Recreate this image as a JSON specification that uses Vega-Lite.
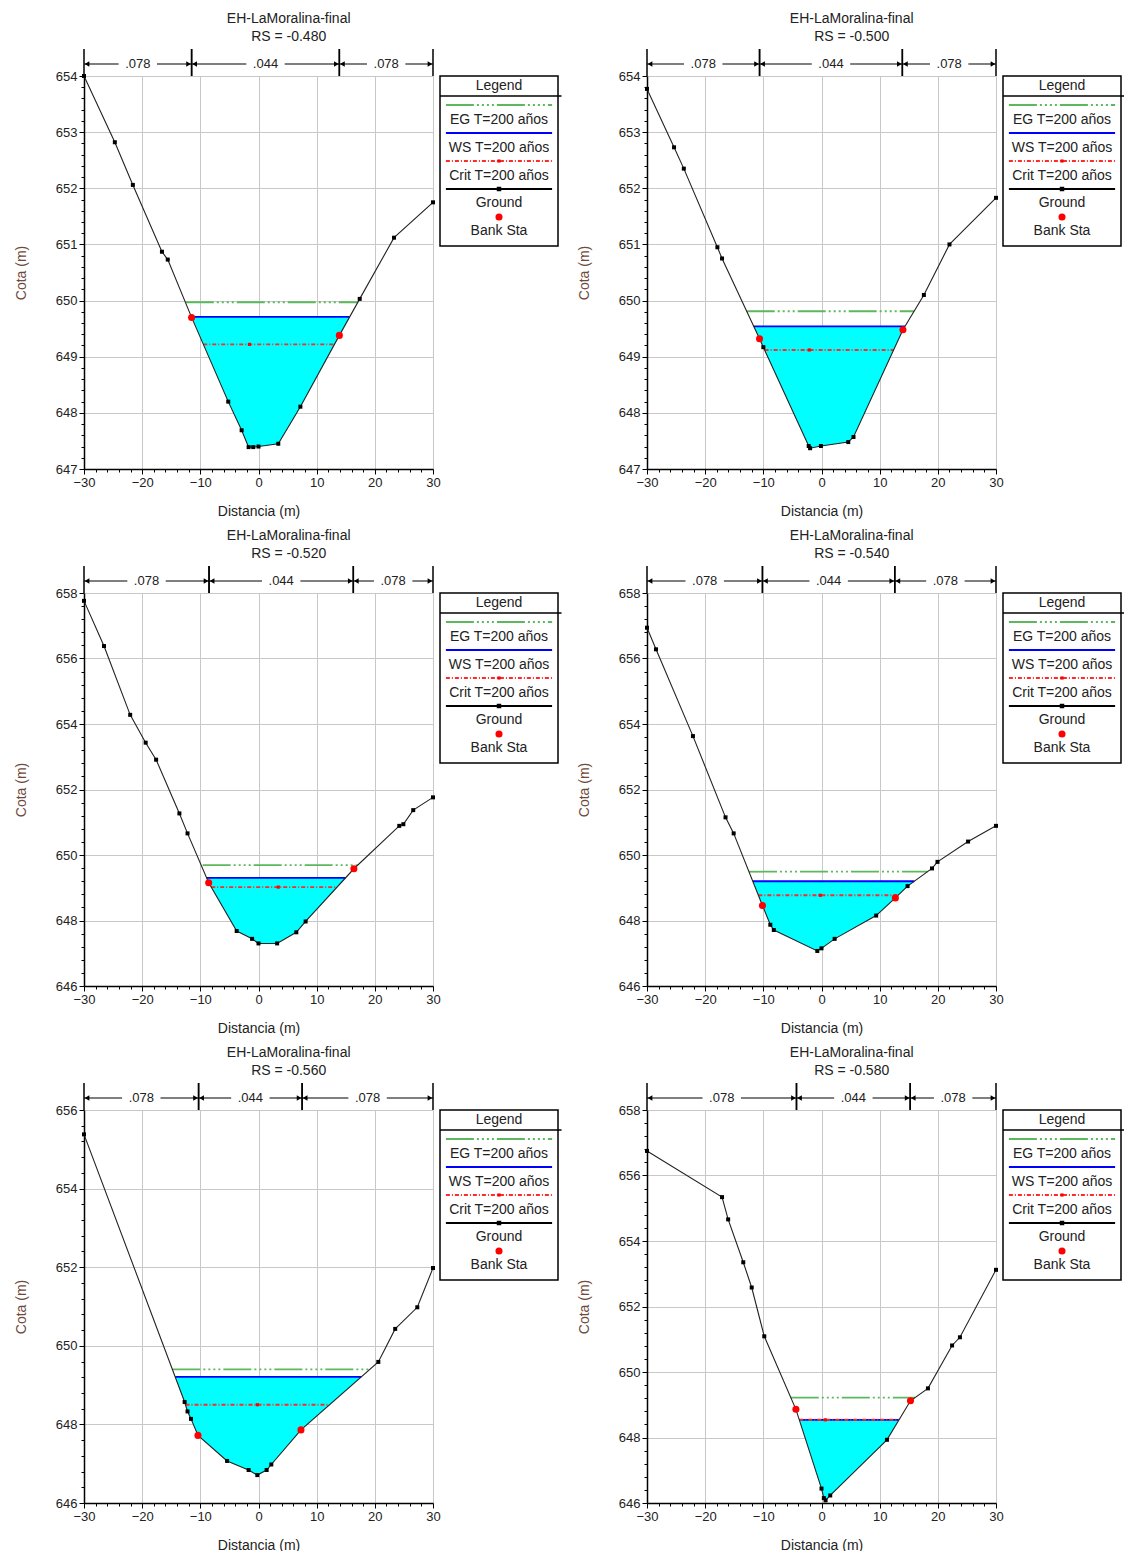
{
"$schema": "https://vega.github.io/schema/vega-lite/v6.json",
"padding": {"left": 14, "top": 12, "right": 0, "bottom": 0},
"config": {
  "font": "Liberation Sans",
  "view": {"stroke": null},
  "text": {"font": "Liberation Sans"},
  "axis": {"labelFont": "Liberation Sans", "labelFontSize": 13, "labelColor": "#222", "titleFont": "Liberation Sans", "titleFontSize": 14, "titleFontWeight": "normal", "titleColor": "#222", "domainColor": "#000", "domainWidth": 1.5, "tickColor": "#000", "tickWidth": 1, "gridColor": "#c8c8c8", "gridWidth": 1, "labelPadding": 2},
  "axisY": {"titleColor": "#6e4a3a", "titlePadding": 27},
  "axisX": {"titlePadding": 15},
  "title": {"font": "Liberation Sans", "fontSize": 14, "fontWeight": "normal", "color": "#222", "lineHeight": 18, "offset": 4, "anchor": "middle"}
},
"datasets": {
  "ground": [
    {"p":1,"x":-30,"z":654.0},{"p":1,"x":-24.7,"z":652.82},{"p":1,"x":-21.6,"z":652.06},{"p":1,"x":-16.6,"z":650.87},{"p":1,"x":-15.6,"z":650.73},{"p":1,"x":-11.5,"z":649.70},{"p":1,"x":-5.2,"z":648.2},{"p":1,"x":-2.9,"z":647.69},{"p":1,"x":-1.7,"z":647.39},{"p":1,"x":-0.9,"z":647.39},{"p":1,"x":0.0,"z":647.40},{"p":1,"x":3.4,"z":647.45},{"p":1,"x":7.2,"z":648.11},{"p":1,"x":13.9,"z":649.38},{"p":1,"x":17.4,"z":650.03},{"p":1,"x":23.3,"z":651.12},{"p":1,"x":30,"z":651.75},
    {"p":2,"x":-30,"z":653.77},{"p":2,"x":-25.35,"z":652.73},{"p":2,"x":-23.67,"z":652.35},{"p":2,"x":-17.9,"z":650.95},{"p":2,"x":-17.1,"z":650.75},{"p":2,"x":-10.65,"z":649.32},{"p":2,"x":-10.0,"z":649.17},{"p":2,"x":-2.2,"z":647.41},{"p":2,"x":-1.96,"z":647.37},{"p":2,"x":-0.1,"z":647.41},{"p":2,"x":4.6,"z":647.48},{"p":2,"x":5.5,"z":647.57},{"p":2,"x":14.0,"z":649.48},{"p":2,"x":17.6,"z":650.10},{"p":2,"x":22.0,"z":651.0},{"p":2,"x":30,"z":651.83},
    {"p":3,"x":-30,"z":657.76},{"p":3,"x":-26.56,"z":656.38},{"p":3,"x":-22.06,"z":654.28},{"p":3,"x":-19.4,"z":653.43},{"p":3,"x":-17.6,"z":652.91},{"p":3,"x":-13.6,"z":651.27},{"p":3,"x":-12.2,"z":650.66},{"p":3,"x":-8.56,"z":649.15},{"p":3,"x":-3.75,"z":647.68},{"p":3,"x":-1.1,"z":647.44},{"p":3,"x":0.0,"z":647.30},{"p":3,"x":3.2,"z":647.30},{"p":3,"x":6.5,"z":647.64},{"p":3,"x":8.1,"z":647.97},{"p":3,"x":16.4,"z":649.58},{"p":3,"x":24.2,"z":650.89},{"p":3,"x":24.9,"z":650.94},{"p":3,"x":26.6,"z":651.37},{"p":3,"x":30,"z":651.76},
    {"p":4,"x":-30,"z":656.94},{"p":4,"x":-28.45,"z":656.28},{"p":4,"x":-22.1,"z":653.63},{"p":4,"x":-16.5,"z":651.15},{"p":4,"x":-15.1,"z":650.66},{"p":4,"x":-10.15,"z":648.46},{"p":4,"x":-8.8,"z":647.87},{"p":4,"x":-8.2,"z":647.71},{"p":4,"x":-0.72,"z":647.07},{"p":4,"x":0.0,"z":647.15},{"p":4,"x":2.26,"z":647.44},{"p":4,"x":9.4,"z":648.15},{"p":4,"x":12.7,"z":648.69},{"p":4,"x":14.8,"z":649.05},{"p":4,"x":19.0,"z":649.59},{"p":4,"x":19.94,"z":649.79},{"p":4,"x":25.2,"z":650.41},{"p":4,"x":30,"z":650.89},
    {"p":5,"x":-30,"z":655.38},{"p":5,"x":-12.7,"z":648.57},{"p":5,"x":-12.2,"z":648.33},{"p":5,"x":-11.6,"z":648.14},{"p":5,"x":-10.4,"z":647.72},{"p":5,"x":-5.4,"z":647.07},{"p":5,"x":-1.7,"z":646.84},{"p":5,"x":-0.2,"z":646.71},{"p":5,"x":1.4,"z":646.84},{"p":5,"x":2.2,"z":646.98},{"p":5,"x":7.3,"z":647.86},{"p":5,"x":20.6,"z":649.59},{"p":5,"x":23.5,"z":650.43},{"p":5,"x":27.3,"z":650.98},{"p":5,"x":30,"z":651.98},
    {"p":6,"x":-30,"z":656.75},{"p":6,"x":-17.1,"z":655.34},{"p":6,"x":-16.05,"z":654.66},{"p":6,"x":-13.45,"z":653.35},{"p":6,"x":-12.0,"z":652.58},{"p":6,"x":-9.84,"z":651.09},{"p":6,"x":-4.4,"z":648.86},{"p":6,"x":0.0,"z":646.44},{"p":6,"x":0.4,"z":646.15},{"p":6,"x":0.7,"z":646.08},{"p":6,"x":1.5,"z":646.23},{"p":6,"x":11.25,"z":647.93},{"p":6,"x":15.3,"z":649.12},{"p":6,"x":18.3,"z":649.50},{"p":6,"x":22.45,"z":650.81},{"p":6,"x":23.8,"z":651.06},{"p":6,"x":30,"z":653.12}
  ],
  "wet": [
    {"p":1,"x":-11.5,"g":649.71,"ws":649.71},{"p":1,"x":-5.2,"g":648.2,"ws":649.71},{"p":1,"x":-2.9,"g":647.69,"ws":649.71},{"p":1,"x":-1.7,"g":647.39,"ws":649.71},{"p":1,"x":-0.9,"g":647.39,"ws":649.71},{"p":1,"x":0,"g":647.40,"ws":649.71},{"p":1,"x":3.4,"g":647.45,"ws":649.71},{"p":1,"x":7.2,"g":648.11,"ws":649.71},{"p":1,"x":13.9,"g":649.38,"ws":649.71},{"p":1,"x":15.65,"g":649.71,"ws":649.71},
    {"p":2,"x":-11.64,"g":649.54,"ws":649.54},{"p":2,"x":-10.65,"g":649.32,"ws":649.54},{"p":2,"x":-10.0,"g":649.17,"ws":649.54},{"p":2,"x":-2.2,"g":647.41,"ws":649.54},{"p":2,"x":-1.96,"g":647.37,"ws":649.54},{"p":2,"x":-0.1,"g":647.41,"ws":649.54},{"p":2,"x":4.6,"g":647.48,"ws":649.54},{"p":2,"x":5.5,"g":647.57,"ws":649.54},{"p":2,"x":14.0,"g":649.48,"ws":649.54},{"p":2,"x":14.35,"g":649.54,"ws":649.54},
    {"p":3,"x":-8.92,"g":649.30,"ws":649.30},{"p":3,"x":-8.56,"g":649.15,"ws":649.30},{"p":3,"x":-3.75,"g":647.68,"ws":649.30},{"p":3,"x":-1.1,"g":647.44,"ws":649.30},{"p":3,"x":0,"g":647.30,"ws":649.30},{"p":3,"x":3.2,"g":647.30,"ws":649.30},{"p":3,"x":6.5,"g":647.64,"ws":649.30},{"p":3,"x":8.1,"g":647.97,"ws":649.30},{"p":3,"x":14.96,"g":649.30,"ws":649.30},
    {"p":4,"x":-11.8,"g":649.20,"ws":649.20},{"p":4,"x":-10.15,"g":648.46,"ws":649.20},{"p":4,"x":-8.8,"g":647.87,"ws":649.20},{"p":4,"x":-8.2,"g":647.71,"ws":649.20},{"p":4,"x":-0.72,"g":647.07,"ws":649.20},{"p":4,"x":0,"g":647.15,"ws":649.20},{"p":4,"x":2.26,"g":647.44,"ws":649.20},{"p":4,"x":9.4,"g":648.15,"ws":649.20},{"p":4,"x":12.7,"g":648.69,"ws":649.20},{"p":4,"x":14.8,"g":649.05,"ws":649.20},{"p":4,"x":15.97,"g":649.20,"ws":649.20},
    {"p":5,"x":-14.33,"g":649.21,"ws":649.21},{"p":5,"x":-12.7,"g":648.57,"ws":649.21},{"p":5,"x":-12.2,"g":648.33,"ws":649.21},{"p":5,"x":-11.6,"g":648.14,"ws":649.21},{"p":5,"x":-10.4,"g":647.72,"ws":649.21},{"p":5,"x":-5.4,"g":647.07,"ws":649.21},{"p":5,"x":-1.7,"g":646.84,"ws":649.21},{"p":5,"x":-0.2,"g":646.71,"ws":649.21},{"p":5,"x":1.4,"g":646.84,"ws":649.21},{"p":5,"x":2.2,"g":646.98,"ws":649.21},{"p":5,"x":7.3,"g":647.86,"ws":649.21},{"p":5,"x":17.68,"g":649.21,"ws":649.21},
    {"p":6,"x":-3.82,"g":648.54,"ws":648.54},{"p":6,"x":0,"g":646.44,"ws":648.54},{"p":6,"x":0.4,"g":646.15,"ws":648.54},{"p":6,"x":0.7,"g":646.08,"ws":648.54},{"p":6,"x":1.5,"g":646.23,"ws":648.54},{"p":6,"x":11.25,"g":647.93,"ws":648.54},{"p":6,"x":13.33,"g":648.54,"ws":648.54}
  ],
  "levels": [
    {"p":1,"kind":"EG","x1":-12.5,"x2":17.0,"z":649.97},{"p":1,"kind":"WS","x1":-11.55,"x2":15.65,"z":649.71},{"p":1,"kind":"Crit","x1":-9.5,"x2":13.06,"z":649.22,"xm":-1.56},
    {"p":2,"kind":"EG","x1":-12.86,"x2":15.92,"z":649.81},{"p":2,"kind":"WS","x1":-11.64,"x2":14.35,"z":649.54},{"p":2,"kind":"Crit","x1":-9.78,"x2":12.4,"z":649.12,"xm":-2.1},
    {"p":3,"kind":"EG","x1":-9.6,"x2":17.05,"z":649.69},{"p":3,"kind":"WS","x1":-8.92,"x2":14.96,"z":649.30},{"p":3,"kind":"Crit","x1":-8.13,"x2":13.51,"z":649.02,"xm":3.4},
    {"p":4,"kind":"EG","x1":-12.47,"x2":18.22,"z":649.49},{"p":4,"kind":"WS","x1":-11.8,"x2":15.97,"z":649.20},{"p":4,"kind":"Crit","x1":-10.85,"x2":13.17,"z":648.77,"xm":-0.2},
    {"p":5,"kind":"EG","x1":-14.81,"x2":19.3,"z":649.40},{"p":5,"kind":"WS","x1":-14.33,"x2":17.68,"z":649.21},{"p":5,"kind":"Crit","x1":-12.55,"x2":12.22,"z":648.50,"xm":-0.2},
    {"p":6,"kind":"EG","x1":-5.28,"x2":16.09,"z":649.22},{"p":6,"kind":"WS","x1":-3.82,"x2":13.33,"z":648.54},{"p":6,"kind":"Crit","x1":-3.82,"x2":13.33,"z":648.54,"xm":0.65}
  ],
  "banks": [
    {"p":1,"x":-11.5,"z":649.70},{"p":1,"x":13.9,"z":649.38},
    {"p":2,"x":-10.65,"z":649.32},{"p":2,"x":14.0,"z":649.48},
    {"p":3,"x":-8.56,"z":649.15},{"p":3,"x":16.4,"z":649.58},
    {"p":4,"x":-10.15,"z":648.46},{"p":4,"x":12.7,"z":648.69},
    {"p":5,"x":-10.4,"z":647.72},{"p":5,"x":7.3,"z":647.86},
    {"p":6,"x":-4.4,"z":648.86},{"p":6,"x":15.3,"z":649.12}
  ],
  "nseg": [
    {"p":1,"x1":-30,"x2":-11.5,"xm":-20.75,"n":".078"},{"p":1,"x1":-11.5,"x2":13.9,"xm":1.2,"n":".044"},{"p":1,"x1":13.9,"x2":30,"xm":21.95,"n":".078"},
    {"p":2,"x1":-30,"x2":-10.65,"xm":-20.33,"n":".078"},{"p":2,"x1":-10.65,"x2":13.9,"xm":1.63,"n":".044"},{"p":2,"x1":13.9,"x2":30,"xm":21.95,"n":".078"},
    {"p":3,"x1":-30,"x2":-8.5,"xm":-19.25,"n":".078"},{"p":3,"x1":-8.5,"x2":16.3,"xm":3.9,"n":".044"},{"p":3,"x1":16.3,"x2":30,"xm":23.15,"n":".078"},
    {"p":4,"x1":-30,"x2":-10.15,"xm":-20.08,"n":".078"},{"p":4,"x1":-10.15,"x2":12.6,"xm":1.23,"n":".044"},{"p":4,"x1":12.6,"x2":30,"xm":21.3,"n":".078"},
    {"p":5,"x1":-30,"x2":-10.3,"xm":-20.15,"n":".078"},{"p":5,"x1":-10.3,"x2":7.5,"xm":-1.4,"n":".044"},{"p":5,"x1":7.5,"x2":30,"xm":18.75,"n":".078"},
    {"p":6,"x1":-30,"x2":-4.3,"xm":-17.15,"n":".078"},{"p":6,"x1":-4.3,"x2":15.25,"xm":5.48,"n":".044"},{"p":6,"x1":15.25,"x2":30,"xm":22.63,"n":".078"}
  ],
  "leg": [
    {"kind":"EG","k":1,"label":"EG T=200 años"},{"kind":"WS","k":2,"label":"WS T=200 años"},{"kind":"Crit","k":3,"label":"Crit T=200 años"},{"kind":"Ground","k":4,"label":"Ground"},{"kind":"Bank","k":5,"label":"Bank Sta"}
  ]
},
"spacing": 11,
"vconcat": [
{"spacing": 13, "hconcat": [
 {"title": {"text": ["EH-LaMoralina-final", "RS = -0.480"]}, "spacing": 7, "bounds": "flush", "hconcat": [
  {"width": 349, "height": 393, "view": {"stroke": null}, "layer": [
   {"data":{"name":"wet"},"transform":[{"filter":"datum.p == 1"}],"mark":{"type":"area","color":"#00ffff","opacity":1},"encoding":{"x":{"field":"x","type":"quantitative"},"y":{"field":"g","type":"quantitative"},"y2":{"field":"ws"}}},
   {"data":{"name":"levels"},"transform":[{"filter":"datum.p == 1"}],"mark":{"type":"rule"},"encoding":{"x":{"field":"x1","type":"quantitative"},"x2":{"field":"x2"},"y":{"field":"z","type":"quantitative"},"color":{"field":"kind","type":"nominal","scale":{"domain":["EG","WS","Crit","Ground"],"range":["#5cb85c","#0000ff","#ff2a2a","#000000"]},"legend":null},"strokeDash":{"field":"kind","type":"nominal","scale":{"domain":["EG","WS","Crit","Ground"],"range":[[28,3,2,3,2,3,2,3,2,3],[1,0],[4,2,1,2],[1,0]]},"legend":null},"strokeWidth":{"field":"kind","type":"ordinal","scale":{"domain":["EG","WS","Crit","Ground"],"range":[1.8,2,1.4,1.2]},"legend":null}}},
   {"data":{"name":"levels"},"transform":[{"filter":"datum.p == 1 && datum.kind == 'Crit'"}],"mark":{"type":"point","shape":"square","size":10,"filled":true,"color":"#ff0000","opacity":1},"encoding":{"x":{"field":"xm","type":"quantitative"},"y":{"field":"z","type":"quantitative"}}},
   {"data":{"name":"ground"},"transform":[{"filter":"datum.p == 1"}],"mark":{"type":"line","color":"#222","strokeWidth":1.1,"point":{"shape":"square","size":16,"filled":true,"color":"#000","opacity":1}},"encoding":{
     "x":{"field":"x","type":"quantitative","scale":{"domain":[-30,30],"nice":false,"zero":false},"axis":{"title":"Distancia (m)","tickCount":200,"values":[-30,-28,-26,-24,-22,-20,-18,-16,-14,-12,-10,-8,-6,-4,-2,0,2,4,6,8,10,12,14,16,18,20,22,24,26,28,30],"labelExpr":"abs(datum.value/10 - round(datum.value/10)) < 0.01 ? format(datum.value, 'd') : ''","tickSize":{"condition":{"test":"abs(datum.value/10 - round(datum.value/10)) < 0.01","value":5},"value":3},"gridOpacity":{"condition":{"test":"abs(datum.value/10 - round(datum.value/10)) < 0.01","value":1},"value":0},"labelOverlap":false,"labelFlush":false}},
     "y":{"field":"z","type":"quantitative","scale":{"domain":[647,654],"nice":false,"zero":false},"axis":{"title":"Cota (m)","tickCount":200,"values":[647,647.2,647.4,647.6,647.8,648,648.2,648.4,648.6,648.8,649,649.2,649.4,649.6,649.8,650,650.2,650.4,650.6,650.8,651,651.2,651.4,651.6,651.8,652,652.2,652.4,652.6,652.8,653,653.2,653.4,653.6,653.8,654],"labelExpr":"abs(datum.value - round(datum.value)) < 0.01 ? format(datum.value, 'd') : ''","tickSize":{"condition":{"test":"abs(datum.value - round(datum.value)) < 0.01","value":5},"value":3},"gridOpacity":{"condition":{"test":"abs(datum.value - round(datum.value)) < 0.01","value":1},"value":0},"labelOverlap":false}}}},
   {"data":{"name":"banks"},"transform":[{"filter":"datum.p == 1"}],"mark":{"type":"point","shape":"circle","size":50,"filled":true,"color":"#ff0000","opacity":1},"encoding":{"x":{"field":"x","type":"quantitative"},"y":{"field":"z","type":"quantitative"}}},
   {"data":{"name":"nseg"},"transform":[{"filter":"datum.p == 1"}],"layer":[
     {"mark":{"type":"rule","color":"#000","strokeWidth":1.5,"yOffset":-27},"encoding":{"x":{"field":"x1","type":"quantitative"},"y":{"datum":654},"y2":{"datum":654}}},
     {"mark":{"type":"rule","color":"#000","strokeWidth":1.5,"yOffset":-27},"encoding":{"x":{"field":"x2","type":"quantitative"},"y":{"datum":654},"y2":{"datum":654}}},
     {"mark":{"type":"rule","color":"#000","strokeWidth":1.2,"yOffset":-12},"encoding":{"x":{"field":"x1","type":"quantitative"},"x2":{"field":"x2"},"y":{"datum":654}}},
     {"mark":{"type":"point","shape":"M-1.6,-0.5H1.6V0.5H-1.6Z","size":576,"filled":true,"color":"#ffffff","opacity":1,"yOffset":-12},"encoding":{"x":{"field":"xm","type":"quantitative"},"y":{"datum":654}}},
     {"mark":{"type":"point","shape":"triangle-left","size":30,"filled":true,"color":"#000","opacity":1,"yOffset":-12,"xOffset":3},"encoding":{"x":{"field":"x1","type":"quantitative"},"y":{"datum":654}}},
     {"mark":{"type":"point","shape":"triangle-right","size":30,"filled":true,"color":"#000","opacity":1,"yOffset":-12,"xOffset":-3},"encoding":{"x":{"field":"x2","type":"quantitative"},"y":{"datum":654}}},
     {"mark":{"type":"text","fontSize":13,"color":"#222","yOffset":-12,"baseline":"middle"},"encoding":{"x":{"field":"xm","type":"quantitative"},"y":{"datum":654},"text":{"field":"n"}}}
   ]}
  ]},
  {"width": 118, "height": 170, "view": {"stroke": "#000", "strokeWidth": 1.5}, "data": {"name": "leg"}, "layer": [
   {"data":{"values":[{}]},"mark":{"type":"text","text":"Legend","fontSize":14,"color":"#222","yOffset":9,"baseline":"middle"},"encoding":{"x":{"datum":0.5,"type":"quantitative","scale":{"domain":[0,1],"nice":false},"axis":null},"y":{"datum":0,"type":"quantitative","scale":{"domain":[-0.036,6.036],"reverse":true,"nice":false,"zero":false},"axis":null}}},
   {"data":{"values":[{}]},"mark":{"type":"rule","color":"#000","strokeWidth":1.5,"yOffset":19},"encoding":{"x":{"datum":0,"type":"quantitative","axis":null},"x2":{"datum":1.03},"y":{"datum":0,"type":"quantitative","axis":null}}},
   {"transform":[{"filter":"datum.kind != 'Bank'"}],"mark":{"type":"rule"},"encoding":{"x":{"datum":0.05,"type":"quantitative","axis":null},"x2":{"datum":0.95},"y":{"field":"k","type":"quantitative","axis":null},"color":{"field":"kind","type":"nominal","scale":{"domain":["EG","WS","Crit","Ground"],"range":["#5cb85c","#0000ff","#ff2a2a","#000000"]},"legend":null},"strokeDash":{"field":"kind","type":"nominal","scale":{"domain":["EG","WS","Crit","Ground"],"range":[[28,3,2,3,2,3,2,3,2,3],[1,0],[4,2,1,2],[1,0]]},"legend":null},"strokeWidth":{"field":"kind","type":"ordinal","scale":{"domain":["EG","WS","Crit","Ground"],"range":[1.8,2,1.4,1.2]},"legend":null}}},
   {"transform":[{"filter":"datum.kind == 'Ground'"}],"mark":{"type":"point","shape":"square","size":20,"filled":true,"color":"#000","opacity":1},"encoding":{"x":{"datum":0.5,"type":"quantitative","axis":null},"y":{"field":"k","type":"quantitative","axis":null}}},
   {"transform":[{"filter":"datum.kind == 'Crit'"}],"mark":{"type":"point","shape":"square","size":10,"filled":true,"color":"#ff0000","opacity":1},"encoding":{"x":{"datum":0.5,"type":"quantitative","axis":null},"y":{"field":"k","type":"quantitative","axis":null}}},
   {"transform":[{"filter":"datum.kind == 'Bank'"}],"mark":{"type":"point","shape":"circle","size":50,"filled":true,"color":"#ff0000","opacity":1},"encoding":{"x":{"datum":0.5,"type":"quantitative","axis":null},"y":{"field":"k","type":"quantitative","axis":null}}},
   {"mark":{"type":"text","fontSize":14,"color":"#222","yOffset":14.5,"baseline":"middle"},"encoding":{"x":{"datum":0.5,"type":"quantitative","axis":null},"y":{"field":"k","type":"quantitative","axis":null},"text":{"field":"label"}}}
  ]}
 ]},
 {"title": {"text": ["EH-LaMoralina-final", "RS = -0.500"]}, "spacing": 7, "bounds": "flush", "hconcat": [
  {"width": 349, "height": 393, "view": {"stroke": null}, "layer": [
   {"data":{"name":"wet"},"transform":[{"filter":"datum.p == 2"}],"mark":{"type":"area","color":"#00ffff","opacity":1},"encoding":{"x":{"field":"x","type":"quantitative"},"y":{"field":"g","type":"quantitative"},"y2":{"field":"ws"}}},
   {"data":{"name":"levels"},"transform":[{"filter":"datum.p == 2"}],"mark":{"type":"rule"},"encoding":{"x":{"field":"x1","type":"quantitative"},"x2":{"field":"x2"},"y":{"field":"z","type":"quantitative"},"color":{"field":"kind","type":"nominal","scale":{"domain":["EG","WS","Crit","Ground"],"range":["#5cb85c","#0000ff","#ff2a2a","#000000"]},"legend":null},"strokeDash":{"field":"kind","type":"nominal","scale":{"domain":["EG","WS","Crit","Ground"],"range":[[28,3,2,3,2,3,2,3,2,3],[1,0],[4,2,1,2],[1,0]]},"legend":null},"strokeWidth":{"field":"kind","type":"ordinal","scale":{"domain":["EG","WS","Crit","Ground"],"range":[1.8,2,1.4,1.2]},"legend":null}}},
   {"data":{"name":"levels"},"transform":[{"filter":"datum.p == 2 && datum.kind == 'Crit'"}],"mark":{"type":"point","shape":"square","size":10,"filled":true,"color":"#ff0000","opacity":1},"encoding":{"x":{"field":"xm","type":"quantitative"},"y":{"field":"z","type":"quantitative"}}},
   {"data":{"name":"ground"},"transform":[{"filter":"datum.p == 2"}],"mark":{"type":"line","color":"#222","strokeWidth":1.1,"point":{"shape":"square","size":16,"filled":true,"color":"#000","opacity":1}},"encoding":{
     "x":{"field":"x","type":"quantitative","scale":{"domain":[-30,30],"nice":false,"zero":false},"axis":{"title":"Distancia (m)","tickCount":200,"values":[-30,-28,-26,-24,-22,-20,-18,-16,-14,-12,-10,-8,-6,-4,-2,0,2,4,6,8,10,12,14,16,18,20,22,24,26,28,30],"labelExpr":"abs(datum.value/10 - round(datum.value/10)) < 0.01 ? format(datum.value, 'd') : ''","tickSize":{"condition":{"test":"abs(datum.value/10 - round(datum.value/10)) < 0.01","value":5},"value":3},"gridOpacity":{"condition":{"test":"abs(datum.value/10 - round(datum.value/10)) < 0.01","value":1},"value":0},"labelOverlap":false,"labelFlush":false}},
     "y":{"field":"z","type":"quantitative","scale":{"domain":[647,654],"nice":false,"zero":false},"axis":{"title":"Cota (m)","tickCount":200,"values":[647,647.2,647.4,647.6,647.8,648,648.2,648.4,648.6,648.8,649,649.2,649.4,649.6,649.8,650,650.2,650.4,650.6,650.8,651,651.2,651.4,651.6,651.8,652,652.2,652.4,652.6,652.8,653,653.2,653.4,653.6,653.8,654],"labelExpr":"abs(datum.value - round(datum.value)) < 0.01 ? format(datum.value, 'd') : ''","tickSize":{"condition":{"test":"abs(datum.value - round(datum.value)) < 0.01","value":5},"value":3},"gridOpacity":{"condition":{"test":"abs(datum.value - round(datum.value)) < 0.01","value":1},"value":0},"labelOverlap":false}}}},
   {"data":{"name":"banks"},"transform":[{"filter":"datum.p == 2"}],"mark":{"type":"point","shape":"circle","size":50,"filled":true,"color":"#ff0000","opacity":1},"encoding":{"x":{"field":"x","type":"quantitative"},"y":{"field":"z","type":"quantitative"}}},
   {"data":{"name":"nseg"},"transform":[{"filter":"datum.p == 2"}],"layer":[
     {"mark":{"type":"rule","color":"#000","strokeWidth":1.5,"yOffset":-27},"encoding":{"x":{"field":"x1","type":"quantitative"},"y":{"datum":654},"y2":{"datum":654}}},
     {"mark":{"type":"rule","color":"#000","strokeWidth":1.5,"yOffset":-27},"encoding":{"x":{"field":"x2","type":"quantitative"},"y":{"datum":654},"y2":{"datum":654}}},
     {"mark":{"type":"rule","color":"#000","strokeWidth":1.2,"yOffset":-12},"encoding":{"x":{"field":"x1","type":"quantitative"},"x2":{"field":"x2"},"y":{"datum":654}}},
     {"mark":{"type":"point","shape":"M-1.6,-0.5H1.6V0.5H-1.6Z","size":576,"filled":true,"color":"#ffffff","opacity":1,"yOffset":-12},"encoding":{"x":{"field":"xm","type":"quantitative"},"y":{"datum":654}}},
     {"mark":{"type":"point","shape":"triangle-left","size":30,"filled":true,"color":"#000","opacity":1,"yOffset":-12,"xOffset":3},"encoding":{"x":{"field":"x1","type":"quantitative"},"y":{"datum":654}}},
     {"mark":{"type":"point","shape":"triangle-right","size":30,"filled":true,"color":"#000","opacity":1,"yOffset":-12,"xOffset":-3},"encoding":{"x":{"field":"x2","type":"quantitative"},"y":{"datum":654}}},
     {"mark":{"type":"text","fontSize":13,"color":"#222","yOffset":-12,"baseline":"middle"},"encoding":{"x":{"field":"xm","type":"quantitative"},"y":{"datum":654},"text":{"field":"n"}}}
   ]}
  ]},
  {"width": 118, "height": 170, "view": {"stroke": "#000", "strokeWidth": 1.5}, "data": {"name": "leg"}, "layer": [
   {"data":{"values":[{}]},"mark":{"type":"text","text":"Legend","fontSize":14,"color":"#222","yOffset":9,"baseline":"middle"},"encoding":{"x":{"datum":0.5,"type":"quantitative","scale":{"domain":[0,1],"nice":false},"axis":null},"y":{"datum":0,"type":"quantitative","scale":{"domain":[-0.036,6.036],"reverse":true,"nice":false,"zero":false},"axis":null}}},
   {"data":{"values":[{}]},"mark":{"type":"rule","color":"#000","strokeWidth":1.5,"yOffset":19},"encoding":{"x":{"datum":0,"type":"quantitative","axis":null},"x2":{"datum":1.03},"y":{"datum":0,"type":"quantitative","axis":null}}},
   {"transform":[{"filter":"datum.kind != 'Bank'"}],"mark":{"type":"rule"},"encoding":{"x":{"datum":0.05,"type":"quantitative","axis":null},"x2":{"datum":0.95},"y":{"field":"k","type":"quantitative","axis":null},"color":{"field":"kind","type":"nominal","scale":{"domain":["EG","WS","Crit","Ground"],"range":["#5cb85c","#0000ff","#ff2a2a","#000000"]},"legend":null},"strokeDash":{"field":"kind","type":"nominal","scale":{"domain":["EG","WS","Crit","Ground"],"range":[[28,3,2,3,2,3,2,3,2,3],[1,0],[4,2,1,2],[1,0]]},"legend":null},"strokeWidth":{"field":"kind","type":"ordinal","scale":{"domain":["EG","WS","Crit","Ground"],"range":[1.8,2,1.4,1.2]},"legend":null}}},
   {"transform":[{"filter":"datum.kind == 'Ground'"}],"mark":{"type":"point","shape":"square","size":20,"filled":true,"color":"#000","opacity":1},"encoding":{"x":{"datum":0.5,"type":"quantitative","axis":null},"y":{"field":"k","type":"quantitative","axis":null}}},
   {"transform":[{"filter":"datum.kind == 'Crit'"}],"mark":{"type":"point","shape":"square","size":10,"filled":true,"color":"#ff0000","opacity":1},"encoding":{"x":{"datum":0.5,"type":"quantitative","axis":null},"y":{"field":"k","type":"quantitative","axis":null}}},
   {"transform":[{"filter":"datum.kind == 'Bank'"}],"mark":{"type":"point","shape":"circle","size":50,"filled":true,"color":"#ff0000","opacity":1},"encoding":{"x":{"datum":0.5,"type":"quantitative","axis":null},"y":{"field":"k","type":"quantitative","axis":null}}},
   {"mark":{"type":"text","fontSize":14,"color":"#222","yOffset":14.5,"baseline":"middle"},"encoding":{"x":{"datum":0.5,"type":"quantitative","axis":null},"y":{"field":"k","type":"quantitative","axis":null},"text":{"field":"label"}}}
  ]}
 ]}
]},
{"spacing": 13, "hconcat": [
 {"title": {"text": ["EH-LaMoralina-final", "RS = -0.520"]}, "spacing": 7, "bounds": "flush", "hconcat": [
  {"width": 349, "height": 393, "view": {"stroke": null}, "layer": [
   {"data":{"name":"wet"},"transform":[{"filter":"datum.p == 3"}],"mark":{"type":"area","color":"#00ffff","opacity":1},"encoding":{"x":{"field":"x","type":"quantitative"},"y":{"field":"g","type":"quantitative"},"y2":{"field":"ws"}}},
   {"data":{"name":"levels"},"transform":[{"filter":"datum.p == 3"}],"mark":{"type":"rule"},"encoding":{"x":{"field":"x1","type":"quantitative"},"x2":{"field":"x2"},"y":{"field":"z","type":"quantitative"},"color":{"field":"kind","type":"nominal","scale":{"domain":["EG","WS","Crit","Ground"],"range":["#5cb85c","#0000ff","#ff2a2a","#000000"]},"legend":null},"strokeDash":{"field":"kind","type":"nominal","scale":{"domain":["EG","WS","Crit","Ground"],"range":[[28,3,2,3,2,3,2,3,2,3],[1,0],[4,2,1,2],[1,0]]},"legend":null},"strokeWidth":{"field":"kind","type":"ordinal","scale":{"domain":["EG","WS","Crit","Ground"],"range":[1.8,2,1.4,1.2]},"legend":null}}},
   {"data":{"name":"levels"},"transform":[{"filter":"datum.p == 3 && datum.kind == 'Crit'"}],"mark":{"type":"point","shape":"square","size":10,"filled":true,"color":"#ff0000","opacity":1},"encoding":{"x":{"field":"xm","type":"quantitative"},"y":{"field":"z","type":"quantitative"}}},
   {"data":{"name":"ground"},"transform":[{"filter":"datum.p == 3"}],"mark":{"type":"line","color":"#222","strokeWidth":1.1,"point":{"shape":"square","size":16,"filled":true,"color":"#000","opacity":1}},"encoding":{
     "x":{"field":"x","type":"quantitative","scale":{"domain":[-30,30],"nice":false,"zero":false},"axis":{"title":"Distancia (m)","tickCount":200,"values":[-30,-28,-26,-24,-22,-20,-18,-16,-14,-12,-10,-8,-6,-4,-2,0,2,4,6,8,10,12,14,16,18,20,22,24,26,28,30],"labelExpr":"abs(datum.value/10 - round(datum.value/10)) < 0.01 ? format(datum.value, 'd') : ''","tickSize":{"condition":{"test":"abs(datum.value/10 - round(datum.value/10)) < 0.01","value":5},"value":3},"gridOpacity":{"condition":{"test":"abs(datum.value/10 - round(datum.value/10)) < 0.01","value":1},"value":0},"labelOverlap":false,"labelFlush":false}},
     "y":{"field":"z","type":"quantitative","scale":{"domain":[646,658],"nice":false,"zero":false},"axis":{"title":"Cota (m)","tickCount":200,"values":[646,646.4,646.8,647.2,647.6,648,648.4,648.8,649.2,649.6,650,650.4,650.8,651.2,651.6,652,652.4,652.8,653.2,653.6,654,654.4,654.8,655.2,655.6,656,656.4,656.8,657.2,657.6,658],"labelExpr":"abs(datum.value/2 - round(datum.value/2)) < 0.01 ? format(datum.value, 'd') : ''","tickSize":{"condition":{"test":"abs(datum.value/2 - round(datum.value/2)) < 0.01","value":5},"value":3},"gridOpacity":{"condition":{"test":"abs(datum.value/2 - round(datum.value/2)) < 0.01","value":1},"value":0},"labelOverlap":false}}}},
   {"data":{"name":"banks"},"transform":[{"filter":"datum.p == 3"}],"mark":{"type":"point","shape":"circle","size":50,"filled":true,"color":"#ff0000","opacity":1},"encoding":{"x":{"field":"x","type":"quantitative"},"y":{"field":"z","type":"quantitative"}}},
   {"data":{"name":"nseg"},"transform":[{"filter":"datum.p == 3"}],"layer":[
     {"mark":{"type":"rule","color":"#000","strokeWidth":1.5,"yOffset":-27},"encoding":{"x":{"field":"x1","type":"quantitative"},"y":{"datum":658},"y2":{"datum":658}}},
     {"mark":{"type":"rule","color":"#000","strokeWidth":1.5,"yOffset":-27},"encoding":{"x":{"field":"x2","type":"quantitative"},"y":{"datum":658},"y2":{"datum":658}}},
     {"mark":{"type":"rule","color":"#000","strokeWidth":1.2,"yOffset":-12},"encoding":{"x":{"field":"x1","type":"quantitative"},"x2":{"field":"x2"},"y":{"datum":658}}},
     {"mark":{"type":"point","shape":"M-1.6,-0.5H1.6V0.5H-1.6Z","size":576,"filled":true,"color":"#ffffff","opacity":1,"yOffset":-12},"encoding":{"x":{"field":"xm","type":"quantitative"},"y":{"datum":658}}},
     {"mark":{"type":"point","shape":"triangle-left","size":30,"filled":true,"color":"#000","opacity":1,"yOffset":-12,"xOffset":3},"encoding":{"x":{"field":"x1","type":"quantitative"},"y":{"datum":658}}},
     {"mark":{"type":"point","shape":"triangle-right","size":30,"filled":true,"color":"#000","opacity":1,"yOffset":-12,"xOffset":-3},"encoding":{"x":{"field":"x2","type":"quantitative"},"y":{"datum":658}}},
     {"mark":{"type":"text","fontSize":13,"color":"#222","yOffset":-12,"baseline":"middle"},"encoding":{"x":{"field":"xm","type":"quantitative"},"y":{"datum":658},"text":{"field":"n"}}}
   ]}
  ]},
  {"width": 118, "height": 170, "view": {"stroke": "#000", "strokeWidth": 1.5}, "data": {"name": "leg"}, "layer": [
   {"data":{"values":[{}]},"mark":{"type":"text","text":"Legend","fontSize":14,"color":"#222","yOffset":9,"baseline":"middle"},"encoding":{"x":{"datum":0.5,"type":"quantitative","scale":{"domain":[0,1],"nice":false},"axis":null},"y":{"datum":0,"type":"quantitative","scale":{"domain":[-0.036,6.036],"reverse":true,"nice":false,"zero":false},"axis":null}}},
   {"data":{"values":[{}]},"mark":{"type":"rule","color":"#000","strokeWidth":1.5,"yOffset":19},"encoding":{"x":{"datum":0,"type":"quantitative","axis":null},"x2":{"datum":1.03},"y":{"datum":0,"type":"quantitative","axis":null}}},
   {"transform":[{"filter":"datum.kind != 'Bank'"}],"mark":{"type":"rule"},"encoding":{"x":{"datum":0.05,"type":"quantitative","axis":null},"x2":{"datum":0.95},"y":{"field":"k","type":"quantitative","axis":null},"color":{"field":"kind","type":"nominal","scale":{"domain":["EG","WS","Crit","Ground"],"range":["#5cb85c","#0000ff","#ff2a2a","#000000"]},"legend":null},"strokeDash":{"field":"kind","type":"nominal","scale":{"domain":["EG","WS","Crit","Ground"],"range":[[28,3,2,3,2,3,2,3,2,3],[1,0],[4,2,1,2],[1,0]]},"legend":null},"strokeWidth":{"field":"kind","type":"ordinal","scale":{"domain":["EG","WS","Crit","Ground"],"range":[1.8,2,1.4,1.2]},"legend":null}}},
   {"transform":[{"filter":"datum.kind == 'Ground'"}],"mark":{"type":"point","shape":"square","size":20,"filled":true,"color":"#000","opacity":1},"encoding":{"x":{"datum":0.5,"type":"quantitative","axis":null},"y":{"field":"k","type":"quantitative","axis":null}}},
   {"transform":[{"filter":"datum.kind == 'Crit'"}],"mark":{"type":"point","shape":"square","size":10,"filled":true,"color":"#ff0000","opacity":1},"encoding":{"x":{"datum":0.5,"type":"quantitative","axis":null},"y":{"field":"k","type":"quantitative","axis":null}}},
   {"transform":[{"filter":"datum.kind == 'Bank'"}],"mark":{"type":"point","shape":"circle","size":50,"filled":true,"color":"#ff0000","opacity":1},"encoding":{"x":{"datum":0.5,"type":"quantitative","axis":null},"y":{"field":"k","type":"quantitative","axis":null}}},
   {"mark":{"type":"text","fontSize":14,"color":"#222","yOffset":14.5,"baseline":"middle"},"encoding":{"x":{"datum":0.5,"type":"quantitative","axis":null},"y":{"field":"k","type":"quantitative","axis":null},"text":{"field":"label"}}}
  ]}
 ]},
 {"title": {"text": ["EH-LaMoralina-final", "RS = -0.540"]}, "spacing": 7, "bounds": "flush", "hconcat": [
  {"width": 349, "height": 393, "view": {"stroke": null}, "layer": [
   {"data":{"name":"wet"},"transform":[{"filter":"datum.p == 4"}],"mark":{"type":"area","color":"#00ffff","opacity":1},"encoding":{"x":{"field":"x","type":"quantitative"},"y":{"field":"g","type":"quantitative"},"y2":{"field":"ws"}}},
   {"data":{"name":"levels"},"transform":[{"filter":"datum.p == 4"}],"mark":{"type":"rule"},"encoding":{"x":{"field":"x1","type":"quantitative"},"x2":{"field":"x2"},"y":{"field":"z","type":"quantitative"},"color":{"field":"kind","type":"nominal","scale":{"domain":["EG","WS","Crit","Ground"],"range":["#5cb85c","#0000ff","#ff2a2a","#000000"]},"legend":null},"strokeDash":{"field":"kind","type":"nominal","scale":{"domain":["EG","WS","Crit","Ground"],"range":[[28,3,2,3,2,3,2,3,2,3],[1,0],[4,2,1,2],[1,0]]},"legend":null},"strokeWidth":{"field":"kind","type":"ordinal","scale":{"domain":["EG","WS","Crit","Ground"],"range":[1.8,2,1.4,1.2]},"legend":null}}},
   {"data":{"name":"levels"},"transform":[{"filter":"datum.p == 4 && datum.kind == 'Crit'"}],"mark":{"type":"point","shape":"square","size":10,"filled":true,"color":"#ff0000","opacity":1},"encoding":{"x":{"field":"xm","type":"quantitative"},"y":{"field":"z","type":"quantitative"}}},
   {"data":{"name":"ground"},"transform":[{"filter":"datum.p == 4"}],"mark":{"type":"line","color":"#222","strokeWidth":1.1,"point":{"shape":"square","size":16,"filled":true,"color":"#000","opacity":1}},"encoding":{
     "x":{"field":"x","type":"quantitative","scale":{"domain":[-30,30],"nice":false,"zero":false},"axis":{"title":"Distancia (m)","tickCount":200,"values":[-30,-28,-26,-24,-22,-20,-18,-16,-14,-12,-10,-8,-6,-4,-2,0,2,4,6,8,10,12,14,16,18,20,22,24,26,28,30],"labelExpr":"abs(datum.value/10 - round(datum.value/10)) < 0.01 ? format(datum.value, 'd') : ''","tickSize":{"condition":{"test":"abs(datum.value/10 - round(datum.value/10)) < 0.01","value":5},"value":3},"gridOpacity":{"condition":{"test":"abs(datum.value/10 - round(datum.value/10)) < 0.01","value":1},"value":0},"labelOverlap":false,"labelFlush":false}},
     "y":{"field":"z","type":"quantitative","scale":{"domain":[646,658],"nice":false,"zero":false},"axis":{"title":"Cota (m)","tickCount":200,"values":[646,646.4,646.8,647.2,647.6,648,648.4,648.8,649.2,649.6,650,650.4,650.8,651.2,651.6,652,652.4,652.8,653.2,653.6,654,654.4,654.8,655.2,655.6,656,656.4,656.8,657.2,657.6,658],"labelExpr":"abs(datum.value/2 - round(datum.value/2)) < 0.01 ? format(datum.value, 'd') : ''","tickSize":{"condition":{"test":"abs(datum.value/2 - round(datum.value/2)) < 0.01","value":5},"value":3},"gridOpacity":{"condition":{"test":"abs(datum.value/2 - round(datum.value/2)) < 0.01","value":1},"value":0},"labelOverlap":false}}}},
   {"data":{"name":"banks"},"transform":[{"filter":"datum.p == 4"}],"mark":{"type":"point","shape":"circle","size":50,"filled":true,"color":"#ff0000","opacity":1},"encoding":{"x":{"field":"x","type":"quantitative"},"y":{"field":"z","type":"quantitative"}}},
   {"data":{"name":"nseg"},"transform":[{"filter":"datum.p == 4"}],"layer":[
     {"mark":{"type":"rule","color":"#000","strokeWidth":1.5,"yOffset":-27},"encoding":{"x":{"field":"x1","type":"quantitative"},"y":{"datum":658},"y2":{"datum":658}}},
     {"mark":{"type":"rule","color":"#000","strokeWidth":1.5,"yOffset":-27},"encoding":{"x":{"field":"x2","type":"quantitative"},"y":{"datum":658},"y2":{"datum":658}}},
     {"mark":{"type":"rule","color":"#000","strokeWidth":1.2,"yOffset":-12},"encoding":{"x":{"field":"x1","type":"quantitative"},"x2":{"field":"x2"},"y":{"datum":658}}},
     {"mark":{"type":"point","shape":"M-1.6,-0.5H1.6V0.5H-1.6Z","size":576,"filled":true,"color":"#ffffff","opacity":1,"yOffset":-12},"encoding":{"x":{"field":"xm","type":"quantitative"},"y":{"datum":658}}},
     {"mark":{"type":"point","shape":"triangle-left","size":30,"filled":true,"color":"#000","opacity":1,"yOffset":-12,"xOffset":3},"encoding":{"x":{"field":"x1","type":"quantitative"},"y":{"datum":658}}},
     {"mark":{"type":"point","shape":"triangle-right","size":30,"filled":true,"color":"#000","opacity":1,"yOffset":-12,"xOffset":-3},"encoding":{"x":{"field":"x2","type":"quantitative"},"y":{"datum":658}}},
     {"mark":{"type":"text","fontSize":13,"color":"#222","yOffset":-12,"baseline":"middle"},"encoding":{"x":{"field":"xm","type":"quantitative"},"y":{"datum":658},"text":{"field":"n"}}}
   ]}
  ]},
  {"width": 118, "height": 170, "view": {"stroke": "#000", "strokeWidth": 1.5}, "data": {"name": "leg"}, "layer": [
   {"data":{"values":[{}]},"mark":{"type":"text","text":"Legend","fontSize":14,"color":"#222","yOffset":9,"baseline":"middle"},"encoding":{"x":{"datum":0.5,"type":"quantitative","scale":{"domain":[0,1],"nice":false},"axis":null},"y":{"datum":0,"type":"quantitative","scale":{"domain":[-0.036,6.036],"reverse":true,"nice":false,"zero":false},"axis":null}}},
   {"data":{"values":[{}]},"mark":{"type":"rule","color":"#000","strokeWidth":1.5,"yOffset":19},"encoding":{"x":{"datum":0,"type":"quantitative","axis":null},"x2":{"datum":1.03},"y":{"datum":0,"type":"quantitative","axis":null}}},
   {"transform":[{"filter":"datum.kind != 'Bank'"}],"mark":{"type":"rule"},"encoding":{"x":{"datum":0.05,"type":"quantitative","axis":null},"x2":{"datum":0.95},"y":{"field":"k","type":"quantitative","axis":null},"color":{"field":"kind","type":"nominal","scale":{"domain":["EG","WS","Crit","Ground"],"range":["#5cb85c","#0000ff","#ff2a2a","#000000"]},"legend":null},"strokeDash":{"field":"kind","type":"nominal","scale":{"domain":["EG","WS","Crit","Ground"],"range":[[28,3,2,3,2,3,2,3,2,3],[1,0],[4,2,1,2],[1,0]]},"legend":null},"strokeWidth":{"field":"kind","type":"ordinal","scale":{"domain":["EG","WS","Crit","Ground"],"range":[1.8,2,1.4,1.2]},"legend":null}}},
   {"transform":[{"filter":"datum.kind == 'Ground'"}],"mark":{"type":"point","shape":"square","size":20,"filled":true,"color":"#000","opacity":1},"encoding":{"x":{"datum":0.5,"type":"quantitative","axis":null},"y":{"field":"k","type":"quantitative","axis":null}}},
   {"transform":[{"filter":"datum.kind == 'Crit'"}],"mark":{"type":"point","shape":"square","size":10,"filled":true,"color":"#ff0000","opacity":1},"encoding":{"x":{"datum":0.5,"type":"quantitative","axis":null},"y":{"field":"k","type":"quantitative","axis":null}}},
   {"transform":[{"filter":"datum.kind == 'Bank'"}],"mark":{"type":"point","shape":"circle","size":50,"filled":true,"color":"#ff0000","opacity":1},"encoding":{"x":{"datum":0.5,"type":"quantitative","axis":null},"y":{"field":"k","type":"quantitative","axis":null}}},
   {"mark":{"type":"text","fontSize":14,"color":"#222","yOffset":14.5,"baseline":"middle"},"encoding":{"x":{"datum":0.5,"type":"quantitative","axis":null},"y":{"field":"k","type":"quantitative","axis":null},"text":{"field":"label"}}}
  ]}
 ]}
]},
{"spacing": 13, "hconcat": [
 {"title": {"text": ["EH-LaMoralina-final", "RS = -0.560"]}, "spacing": 7, "bounds": "flush", "hconcat": [
  {"width": 349, "height": 393, "view": {"stroke": null}, "layer": [
   {"data":{"name":"wet"},"transform":[{"filter":"datum.p == 5"}],"mark":{"type":"area","color":"#00ffff","opacity":1},"encoding":{"x":{"field":"x","type":"quantitative"},"y":{"field":"g","type":"quantitative"},"y2":{"field":"ws"}}},
   {"data":{"name":"levels"},"transform":[{"filter":"datum.p == 5"}],"mark":{"type":"rule"},"encoding":{"x":{"field":"x1","type":"quantitative"},"x2":{"field":"x2"},"y":{"field":"z","type":"quantitative"},"color":{"field":"kind","type":"nominal","scale":{"domain":["EG","WS","Crit","Ground"],"range":["#5cb85c","#0000ff","#ff2a2a","#000000"]},"legend":null},"strokeDash":{"field":"kind","type":"nominal","scale":{"domain":["EG","WS","Crit","Ground"],"range":[[28,3,2,3,2,3,2,3,2,3],[1,0],[4,2,1,2],[1,0]]},"legend":null},"strokeWidth":{"field":"kind","type":"ordinal","scale":{"domain":["EG","WS","Crit","Ground"],"range":[1.8,2,1.4,1.2]},"legend":null}}},
   {"data":{"name":"levels"},"transform":[{"filter":"datum.p == 5 && datum.kind == 'Crit'"}],"mark":{"type":"point","shape":"square","size":10,"filled":true,"color":"#ff0000","opacity":1},"encoding":{"x":{"field":"xm","type":"quantitative"},"y":{"field":"z","type":"quantitative"}}},
   {"data":{"name":"ground"},"transform":[{"filter":"datum.p == 5"}],"mark":{"type":"line","color":"#222","strokeWidth":1.1,"point":{"shape":"square","size":16,"filled":true,"color":"#000","opacity":1}},"encoding":{
     "x":{"field":"x","type":"quantitative","scale":{"domain":[-30,30],"nice":false,"zero":false},"axis":{"title":"Distancia (m)","tickCount":200,"values":[-30,-28,-26,-24,-22,-20,-18,-16,-14,-12,-10,-8,-6,-4,-2,0,2,4,6,8,10,12,14,16,18,20,22,24,26,28,30],"labelExpr":"abs(datum.value/10 - round(datum.value/10)) < 0.01 ? format(datum.value, 'd') : ''","tickSize":{"condition":{"test":"abs(datum.value/10 - round(datum.value/10)) < 0.01","value":5},"value":3},"gridOpacity":{"condition":{"test":"abs(datum.value/10 - round(datum.value/10)) < 0.01","value":1},"value":0},"labelOverlap":false,"labelFlush":false}},
     "y":{"field":"z","type":"quantitative","scale":{"domain":[646,656],"nice":false,"zero":false},"axis":{"title":"Cota (m)","tickCount":200,"values":[646,646.4,646.8,647.2,647.6,648,648.4,648.8,649.2,649.6,650,650.4,650.8,651.2,651.6,652,652.4,652.8,653.2,653.6,654,654.4,654.8,655.2,655.6,656],"labelExpr":"abs(datum.value/2 - round(datum.value/2)) < 0.01 ? format(datum.value, 'd') : ''","tickSize":{"condition":{"test":"abs(datum.value/2 - round(datum.value/2)) < 0.01","value":5},"value":3},"gridOpacity":{"condition":{"test":"abs(datum.value/2 - round(datum.value/2)) < 0.01","value":1},"value":0},"labelOverlap":false}}}},
   {"data":{"name":"banks"},"transform":[{"filter":"datum.p == 5"}],"mark":{"type":"point","shape":"circle","size":50,"filled":true,"color":"#ff0000","opacity":1},"encoding":{"x":{"field":"x","type":"quantitative"},"y":{"field":"z","type":"quantitative"}}},
   {"data":{"name":"nseg"},"transform":[{"filter":"datum.p == 5"}],"layer":[
     {"mark":{"type":"rule","color":"#000","strokeWidth":1.5,"yOffset":-27},"encoding":{"x":{"field":"x1","type":"quantitative"},"y":{"datum":656},"y2":{"datum":656}}},
     {"mark":{"type":"rule","color":"#000","strokeWidth":1.5,"yOffset":-27},"encoding":{"x":{"field":"x2","type":"quantitative"},"y":{"datum":656},"y2":{"datum":656}}},
     {"mark":{"type":"rule","color":"#000","strokeWidth":1.2,"yOffset":-12},"encoding":{"x":{"field":"x1","type":"quantitative"},"x2":{"field":"x2"},"y":{"datum":656}}},
     {"mark":{"type":"point","shape":"M-1.6,-0.5H1.6V0.5H-1.6Z","size":576,"filled":true,"color":"#ffffff","opacity":1,"yOffset":-12},"encoding":{"x":{"field":"xm","type":"quantitative"},"y":{"datum":656}}},
     {"mark":{"type":"point","shape":"triangle-left","size":30,"filled":true,"color":"#000","opacity":1,"yOffset":-12,"xOffset":3},"encoding":{"x":{"field":"x1","type":"quantitative"},"y":{"datum":656}}},
     {"mark":{"type":"point","shape":"triangle-right","size":30,"filled":true,"color":"#000","opacity":1,"yOffset":-12,"xOffset":-3},"encoding":{"x":{"field":"x2","type":"quantitative"},"y":{"datum":656}}},
     {"mark":{"type":"text","fontSize":13,"color":"#222","yOffset":-12,"baseline":"middle"},"encoding":{"x":{"field":"xm","type":"quantitative"},"y":{"datum":656},"text":{"field":"n"}}}
   ]}
  ]},
  {"width": 118, "height": 170, "view": {"stroke": "#000", "strokeWidth": 1.5}, "data": {"name": "leg"}, "layer": [
   {"data":{"values":[{}]},"mark":{"type":"text","text":"Legend","fontSize":14,"color":"#222","yOffset":9,"baseline":"middle"},"encoding":{"x":{"datum":0.5,"type":"quantitative","scale":{"domain":[0,1],"nice":false},"axis":null},"y":{"datum":0,"type":"quantitative","scale":{"domain":[-0.036,6.036],"reverse":true,"nice":false,"zero":false},"axis":null}}},
   {"data":{"values":[{}]},"mark":{"type":"rule","color":"#000","strokeWidth":1.5,"yOffset":19},"encoding":{"x":{"datum":0,"type":"quantitative","axis":null},"x2":{"datum":1.03},"y":{"datum":0,"type":"quantitative","axis":null}}},
   {"transform":[{"filter":"datum.kind != 'Bank'"}],"mark":{"type":"rule"},"encoding":{"x":{"datum":0.05,"type":"quantitative","axis":null},"x2":{"datum":0.95},"y":{"field":"k","type":"quantitative","axis":null},"color":{"field":"kind","type":"nominal","scale":{"domain":["EG","WS","Crit","Ground"],"range":["#5cb85c","#0000ff","#ff2a2a","#000000"]},"legend":null},"strokeDash":{"field":"kind","type":"nominal","scale":{"domain":["EG","WS","Crit","Ground"],"range":[[28,3,2,3,2,3,2,3,2,3],[1,0],[4,2,1,2],[1,0]]},"legend":null},"strokeWidth":{"field":"kind","type":"ordinal","scale":{"domain":["EG","WS","Crit","Ground"],"range":[1.8,2,1.4,1.2]},"legend":null}}},
   {"transform":[{"filter":"datum.kind == 'Ground'"}],"mark":{"type":"point","shape":"square","size":20,"filled":true,"color":"#000","opacity":1},"encoding":{"x":{"datum":0.5,"type":"quantitative","axis":null},"y":{"field":"k","type":"quantitative","axis":null}}},
   {"transform":[{"filter":"datum.kind == 'Crit'"}],"mark":{"type":"point","shape":"square","size":10,"filled":true,"color":"#ff0000","opacity":1},"encoding":{"x":{"datum":0.5,"type":"quantitative","axis":null},"y":{"field":"k","type":"quantitative","axis":null}}},
   {"transform":[{"filter":"datum.kind == 'Bank'"}],"mark":{"type":"point","shape":"circle","size":50,"filled":true,"color":"#ff0000","opacity":1},"encoding":{"x":{"datum":0.5,"type":"quantitative","axis":null},"y":{"field":"k","type":"quantitative","axis":null}}},
   {"mark":{"type":"text","fontSize":14,"color":"#222","yOffset":14.5,"baseline":"middle"},"encoding":{"x":{"datum":0.5,"type":"quantitative","axis":null},"y":{"field":"k","type":"quantitative","axis":null},"text":{"field":"label"}}}
  ]}
 ]},
 {"title": {"text": ["EH-LaMoralina-final", "RS = -0.580"]}, "spacing": 7, "bounds": "flush", "hconcat": [
  {"width": 349, "height": 393, "view": {"stroke": null}, "layer": [
   {"data":{"name":"wet"},"transform":[{"filter":"datum.p == 6"}],"mark":{"type":"area","color":"#00ffff","opacity":1},"encoding":{"x":{"field":"x","type":"quantitative"},"y":{"field":"g","type":"quantitative"},"y2":{"field":"ws"}}},
   {"data":{"name":"levels"},"transform":[{"filter":"datum.p == 6"}],"mark":{"type":"rule"},"encoding":{"x":{"field":"x1","type":"quantitative"},"x2":{"field":"x2"},"y":{"field":"z","type":"quantitative"},"color":{"field":"kind","type":"nominal","scale":{"domain":["EG","WS","Crit","Ground"],"range":["#5cb85c","#0000ff","#ff2a2a","#000000"]},"legend":null},"strokeDash":{"field":"kind","type":"nominal","scale":{"domain":["EG","WS","Crit","Ground"],"range":[[28,3,2,3,2,3,2,3,2,3],[1,0],[4,2,1,2],[1,0]]},"legend":null},"strokeWidth":{"field":"kind","type":"ordinal","scale":{"domain":["EG","WS","Crit","Ground"],"range":[1.8,2,1.4,1.2]},"legend":null}}},
   {"data":{"name":"levels"},"transform":[{"filter":"datum.p == 6 && datum.kind == 'Crit'"}],"mark":{"type":"point","shape":"square","size":10,"filled":true,"color":"#ff0000","opacity":1},"encoding":{"x":{"field":"xm","type":"quantitative"},"y":{"field":"z","type":"quantitative"}}},
   {"data":{"name":"ground"},"transform":[{"filter":"datum.p == 6"}],"mark":{"type":"line","color":"#222","strokeWidth":1.1,"point":{"shape":"square","size":16,"filled":true,"color":"#000","opacity":1}},"encoding":{
     "x":{"field":"x","type":"quantitative","scale":{"domain":[-30,30],"nice":false,"zero":false},"axis":{"title":"Distancia (m)","tickCount":200,"values":[-30,-28,-26,-24,-22,-20,-18,-16,-14,-12,-10,-8,-6,-4,-2,0,2,4,6,8,10,12,14,16,18,20,22,24,26,28,30],"labelExpr":"abs(datum.value/10 - round(datum.value/10)) < 0.01 ? format(datum.value, 'd') : ''","tickSize":{"condition":{"test":"abs(datum.value/10 - round(datum.value/10)) < 0.01","value":5},"value":3},"gridOpacity":{"condition":{"test":"abs(datum.value/10 - round(datum.value/10)) < 0.01","value":1},"value":0},"labelOverlap":false,"labelFlush":false}},
     "y":{"field":"z","type":"quantitative","scale":{"domain":[646,658],"nice":false,"zero":false},"axis":{"title":"Cota (m)","tickCount":200,"values":[646,646.4,646.8,647.2,647.6,648,648.4,648.8,649.2,649.6,650,650.4,650.8,651.2,651.6,652,652.4,652.8,653.2,653.6,654,654.4,654.8,655.2,655.6,656,656.4,656.8,657.2,657.6,658],"labelExpr":"abs(datum.value/2 - round(datum.value/2)) < 0.01 ? format(datum.value, 'd') : ''","tickSize":{"condition":{"test":"abs(datum.value/2 - round(datum.value/2)) < 0.01","value":5},"value":3},"gridOpacity":{"condition":{"test":"abs(datum.value/2 - round(datum.value/2)) < 0.01","value":1},"value":0},"labelOverlap":false}}}},
   {"data":{"name":"banks"},"transform":[{"filter":"datum.p == 6"}],"mark":{"type":"point","shape":"circle","size":50,"filled":true,"color":"#ff0000","opacity":1},"encoding":{"x":{"field":"x","type":"quantitative"},"y":{"field":"z","type":"quantitative"}}},
   {"data":{"name":"nseg"},"transform":[{"filter":"datum.p == 6"}],"layer":[
     {"mark":{"type":"rule","color":"#000","strokeWidth":1.5,"yOffset":-27},"encoding":{"x":{"field":"x1","type":"quantitative"},"y":{"datum":658},"y2":{"datum":658}}},
     {"mark":{"type":"rule","color":"#000","strokeWidth":1.5,"yOffset":-27},"encoding":{"x":{"field":"x2","type":"quantitative"},"y":{"datum":658},"y2":{"datum":658}}},
     {"mark":{"type":"rule","color":"#000","strokeWidth":1.2,"yOffset":-12},"encoding":{"x":{"field":"x1","type":"quantitative"},"x2":{"field":"x2"},"y":{"datum":658}}},
     {"mark":{"type":"point","shape":"M-1.6,-0.5H1.6V0.5H-1.6Z","size":576,"filled":true,"color":"#ffffff","opacity":1,"yOffset":-12},"encoding":{"x":{"field":"xm","type":"quantitative"},"y":{"datum":658}}},
     {"mark":{"type":"point","shape":"triangle-left","size":30,"filled":true,"color":"#000","opacity":1,"yOffset":-12,"xOffset":3},"encoding":{"x":{"field":"x1","type":"quantitative"},"y":{"datum":658}}},
     {"mark":{"type":"point","shape":"triangle-right","size":30,"filled":true,"color":"#000","opacity":1,"yOffset":-12,"xOffset":-3},"encoding":{"x":{"field":"x2","type":"quantitative"},"y":{"datum":658}}},
     {"mark":{"type":"text","fontSize":13,"color":"#222","yOffset":-12,"baseline":"middle"},"encoding":{"x":{"field":"xm","type":"quantitative"},"y":{"datum":658},"text":{"field":"n"}}}
   ]}
  ]},
  {"width": 118, "height": 170, "view": {"stroke": "#000", "strokeWidth": 1.5}, "data": {"name": "leg"}, "layer": [
   {"data":{"values":[{}]},"mark":{"type":"text","text":"Legend","fontSize":14,"color":"#222","yOffset":9,"baseline":"middle"},"encoding":{"x":{"datum":0.5,"type":"quantitative","scale":{"domain":[0,1],"nice":false},"axis":null},"y":{"datum":0,"type":"quantitative","scale":{"domain":[-0.036,6.036],"reverse":true,"nice":false,"zero":false},"axis":null}}},
   {"data":{"values":[{}]},"mark":{"type":"rule","color":"#000","strokeWidth":1.5,"yOffset":19},"encoding":{"x":{"datum":0,"type":"quantitative","axis":null},"x2":{"datum":1.03},"y":{"datum":0,"type":"quantitative","axis":null}}},
   {"transform":[{"filter":"datum.kind != 'Bank'"}],"mark":{"type":"rule"},"encoding":{"x":{"datum":0.05,"type":"quantitative","axis":null},"x2":{"datum":0.95},"y":{"field":"k","type":"quantitative","axis":null},"color":{"field":"kind","type":"nominal","scale":{"domain":["EG","WS","Crit","Ground"],"range":["#5cb85c","#0000ff","#ff2a2a","#000000"]},"legend":null},"strokeDash":{"field":"kind","type":"nominal","scale":{"domain":["EG","WS","Crit","Ground"],"range":[[28,3,2,3,2,3,2,3,2,3],[1,0],[4,2,1,2],[1,0]]},"legend":null},"strokeWidth":{"field":"kind","type":"ordinal","scale":{"domain":["EG","WS","Crit","Ground"],"range":[1.8,2,1.4,1.2]},"legend":null}}},
   {"transform":[{"filter":"datum.kind == 'Ground'"}],"mark":{"type":"point","shape":"square","size":20,"filled":true,"color":"#000","opacity":1},"encoding":{"x":{"datum":0.5,"type":"quantitative","axis":null},"y":{"field":"k","type":"quantitative","axis":null}}},
   {"transform":[{"filter":"datum.kind == 'Crit'"}],"mark":{"type":"point","shape":"square","size":10,"filled":true,"color":"#ff0000","opacity":1},"encoding":{"x":{"datum":0.5,"type":"quantitative","axis":null},"y":{"field":"k","type":"quantitative","axis":null}}},
   {"transform":[{"filter":"datum.kind == 'Bank'"}],"mark":{"type":"point","shape":"circle","size":50,"filled":true,"color":"#ff0000","opacity":1},"encoding":{"x":{"datum":0.5,"type":"quantitative","axis":null},"y":{"field":"k","type":"quantitative","axis":null}}},
   {"mark":{"type":"text","fontSize":14,"color":"#222","yOffset":14.5,"baseline":"middle"},"encoding":{"x":{"datum":0.5,"type":"quantitative","axis":null},"y":{"field":"k","type":"quantitative","axis":null},"text":{"field":"label"}}}
  ]}
 ]}
]}
]
}
